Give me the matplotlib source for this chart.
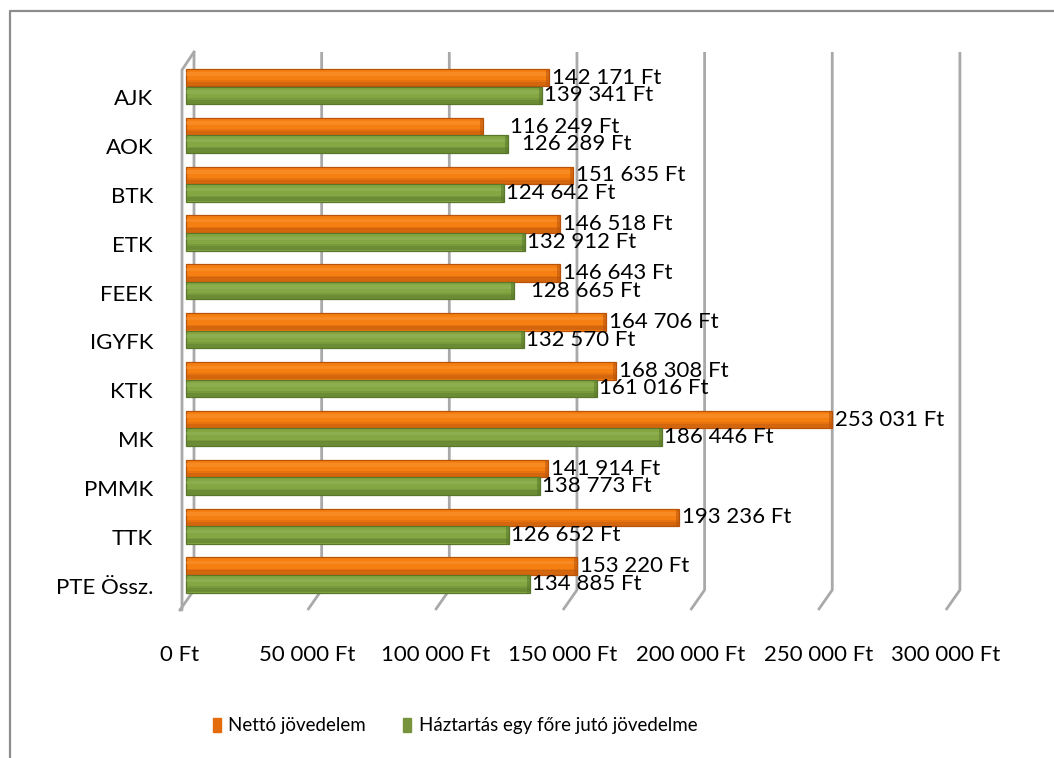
import matplotlib
matplotlib.use("Agg")
import matplotlib.pyplot as plt
from matplotlib.patches import Patch
from matplotlib.lines import Line2D

# =========================
# Data
# =========================

categories = ["AJK", "AOK", "BTK", "ETK", "FEEK", "IGYFK",
              "KTK", "MK", "PMMK", "TTK", "PTE Össz."]

netto = [142171, 116249, 151635, 146518, 146643, 164706,
         168308, 253031, 141914, 193236, 153220]

haztartas = [139341, 126289, 124642, 132912, 128665, 132570,
             161016, 186446, 138773, 126652, 134885]

x_ticks = [0, 50000, 100000, 150000, 200000, 250000, 300000]

series_names = ["Nettó jövedelem", "Háztartás egy főre jutó jövedelme"]


def ft(v):
    return f"{v:,}".replace(",", " ") + " Ft"


plt.rcParams["font.family"] = ["Lato", "DejaVu Sans"]

# =========================
# Layout (pixel based)
# =========================

W, H = 1054, 758
x0_px = 186          # bar origin
px_per_ft = 0.002553
row0_px = 86.5       # centre of first category
row_px = 48.85       # category spacing


def px_x(p):
    return (p - x0_px) / px_per_ft


def px_y(p):
    return (p - row0_px) / row_px


def dx(p):
    return p / px_per_ft


fig = plt.figure(figsize=(W / 100, H / 100), dpi=100)
ax = fig.add_axes([0, 0, 1, 1])
ax.set_xlim(px_x(0), px_x(W))
ax.set_ylim(px_y(H), px_y(0))
ax.axis("off")

# outer frame (left and top visible)
fig.add_artist(Line2D([10 / W, 10 / W, 1], [0, 1 - 11 / H, 1 - 11 / H],
                      color="#8c8c8c", lw=1.6))

# =========================
# 3D walls / gridlines
# =========================

grid_col = "#a9a9a9"
back_off = dx(8)
front_off = dx(-6)
wall_top = px_y(52)
back_bot = px_y(590)
front_bot = px_y(610)

for t in x_ticks:
    ax.plot([t + back_off, t + back_off, t + front_off],
            [wall_top, back_bot, front_bot],
            color=grid_col, lw=2, solid_capstyle="butt", zorder=1)

# left side wall
ax.plot([back_off, dx(-4), dx(-4), front_off],
        [wall_top, px_y(70), front_bot, front_bot],
        color=grid_col, lw=2, zorder=1)

# =========================
# Bars
# =========================

bar_h = 0.36
rows = list(range(len(categories)))
y_or = [r - bar_h / 2 for r in rows]
y_gr = [r + bar_h / 2 for r in rows]

styles = [
    (netto, y_or, "#f67f12", "#b9530a", "#fb9f45"),
    (haztartas, y_gr, "#84a743", "#58772a", "#9fbd64"),
]

for vals, ys, base, dark, light in styles:
    ax.barh(ys, vals, height=bar_h, color=base, edgecolor=dark,
            linewidth=0.9, zorder=3)
    ax.barh([y + bar_h * 0.36 for y in ys], vals, height=bar_h * 0.24,
            color=dark, alpha=0.55, linewidth=0, zorder=4)
    ax.barh([y + bar_h * 0.2 for y in ys], vals, height=bar_h * 0.1,
            color=dark, alpha=0.25, linewidth=0, zorder=4)
    ax.barh([y - bar_h * 0.2 for y in ys], vals, height=bar_h * 0.2,
            color=light, alpha=0.35, linewidth=0, zorder=4)
    # darker end cap
    ax.barh(ys, [dx(3)] * len(vals), left=[v - dx(3) for v in vals],
            height=bar_h, color=dark, alpha=0.55, linewidth=0, zorder=5)

# =========================
# Labels
# =========================

fs = 16
nudge_or = {1: 24}
nudge_gr = {1: 12, 4: 15}

for i, v in enumerate(netto):
    ax.text(v + dx(3 + nudge_or.get(i, 0)), y_or[i], ft(v),
            ha="left", va="center", fontsize=fs, color="#000000", zorder=6)

for i, v in enumerate(haztartas):
    ax.text(v + dx(2 + nudge_gr.get(i, 0)), y_gr[i], ft(v),
            ha="left", va="center", fontsize=fs, color="#000000", zorder=6)

for i, c in enumerate(categories):
    ax.text(px_x(153), i + 0.26, c, ha="right", va="center", fontsize=fs)

for t in x_ticks:
    ax.text(t + front_off, px_y(655), ft(t), ha="center", va="center",
            fontsize=fs)

# =========================
# Legend
# =========================

handles = [Patch(color="#e46c0a"), Patch(color="#77933c")]
fig.legend(handles, series_names, loc="center",
           bbox_to_anchor=(455 / W, 1 - 726 / H), ncol=2, frameon=False,
           fontsize=13.5, handlelength=0.42, handleheight=0.78,
           handletextpad=0.4, columnspacing=2.0)

plt.savefig("out.png", dpi=100)
